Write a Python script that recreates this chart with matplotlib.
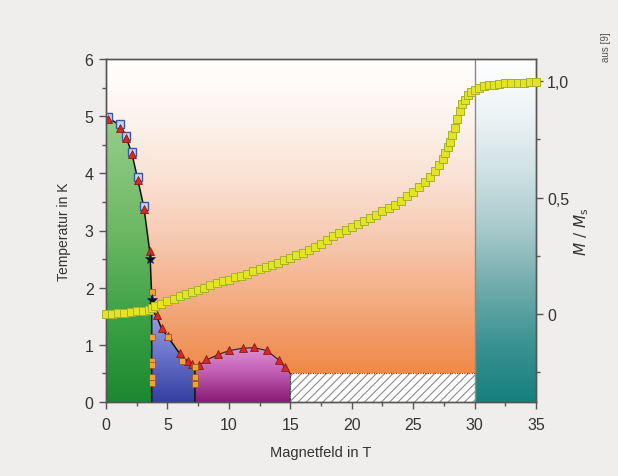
import numpy as np
import matplotlib
matplotlib.use("Agg")
import matplotlib.pyplot as plt
from matplotlib.patches import Polygon, Rectangle
from matplotlib.ticker import MultipleLocator, FixedLocator

plt.rcParams['font.family'] = ['Liberation Sans', 'DejaVu Sans']
plt.rcParams['hatch.color'] = '#8a8a8a'
plt.rcParams['hatch.linewidth'] = 0.8

# ---------------- data ----------------
# magnetisation curve M/Ms vs field
m_field = [0, 0.5, 1, 1.5, 2, 2.5, 3, 3.5, 3.75, 4.0, 4.5, 5, 5.5, 6, 6.5, 7, 7.5, 8, 8.5, 9,
           9.5, 10, 10.5, 11, 11.5, 12, 12.5, 13, 13.5, 14, 14.5, 15, 15.5, 16, 16.5, 17, 17.5,
           18, 18.5, 19, 19.5, 20, 20.5, 21, 21.5, 22, 22.5, 23, 23.5, 24, 24.5, 25, 25.5, 26,
           26.4, 26.8, 27.1, 27.4, 27.6, 27.8, 28.0, 28.2, 28.4, 28.6, 28.8, 29.0, 29.2, 29.45,
           29.7, 30.0, 30.4, 30.8, 31.2, 31.6, 32.0, 32.5, 33, 33.5, 34, 34.5, 35]
m_value = [0.0, 0.002, 0.004, 0.006, 0.009, 0.012, 0.015, 0.019, 0.028, 0.036, 0.045, 0.055,
           0.065, 0.076, 0.086, 0.096, 0.105, 0.114, 0.123, 0.132, 0.140, 0.148, 0.157, 0.165,
           0.174, 0.183, 0.192, 0.201, 0.210, 0.220, 0.230, 0.240, 0.252, 0.264, 0.276, 0.288,
           0.300, 0.318, 0.333, 0.347, 0.360, 0.373, 0.386, 0.399, 0.412, 0.426, 0.440, 0.455,
           0.470, 0.487, 0.505, 0.524, 0.546, 0.568, 0.590, 0.615, 0.640, 0.665, 0.690, 0.715,
           0.740, 0.770, 0.800, 0.835, 0.870, 0.900, 0.920, 0.940, 0.952, 0.962, 0.970, 0.977,
           0.981, 0.984, 0.987, 0.989, 0.991, 0.992, 0.993, 0.994, 0.995]

# phase boundary points (field, temperature)
sq_blue_B = [0.2, 1.14, 1.63, 2.09, 2.57, 3.09]
sq_blue_T = [4.98, 4.86, 4.66, 4.38, 3.93, 3.42]

tri_B = [0.2, 1.14, 1.63, 2.09, 2.57, 3.09, 3.58, 4.12, 4.53, 5.07, 6.02, 6.64, 6.97, 7.59,
         8.13, 9.14, 10.03, 11.12, 12.06, 13.07, 14.1, 14.6]
tri_T = [4.95, 4.80, 4.62, 4.33, 3.88, 3.38, 2.65, 1.52, 1.30, 1.15, 0.85, 0.72, 0.66, 0.65,
         0.75, 0.84, 0.91, 0.95, 0.96, 0.91, 0.74, 0.61]

star_B = [3.58, 3.72]
star_T = [2.51, 1.78]

sq_or_B = [3.72, 3.72, 3.72, 3.72, 3.72, 3.72, 5.02, 6.21, 7.24, 7.24, 7.24]
sq_or_T = [1.92, 1.13, 0.72, 0.64, 0.43, 0.34, 1.13, 0.72, 0.61, 0.43, 0.31]

# phase boundary lines
b1_B = [0.0, 0.2, 1.14, 1.63, 2.09, 2.57, 3.09, 3.58, 3.72, 3.72]
b1_T = [5.0, 4.97, 4.84, 4.64, 4.36, 3.91, 3.40, 2.60, 1.85, 0.0]
b2_B = [3.72, 4.12, 4.53, 5.07, 6.02, 6.64, 6.97, 7.24, 7.24]
b2_T = [1.62, 1.50, 1.28, 1.13, 0.84, 0.71, 0.65, 0.60, 0.0]
b3_B = [7.24, 7.59, 8.13, 9.14, 10.03, 11.12, 12.06, 13.07, 14.1, 14.6, 15.0, 15.0]
b3_T = [0.60, 0.64, 0.73, 0.83, 0.90, 0.94, 0.95, 0.90, 0.73, 0.60, 0.50, 0.0]

hatch_B = [15, 30]
hatch_T = [0, 0.5]
sat_B = 30

x_ticks = [0, 5, 10, 15, 20, 25, 30, 35]
y_ticks = [0, 1, 2, 3, 4, 5, 6]
m_ticks = [0, 0.5, 1.0]
m_labels = ['0', '0,5', '1,0']

# ---------------- figure ----------------
W, H = 618, 477
fig = plt.figure(figsize=(W / 100, H / 100), dpi=100, facecolor='#efeeec')
ax = fig.add_axes([106 / W, 1 - 403 / H, 430 / W, 343 / H])
ax.set_facecolor('white')

TXT = '#333333'
SP = '#555555'


def gradient(stops, n=300):
    ts = np.array([s[0] for s in stops], float)
    cs = np.array([s[1] for s in stops], float) / 255.0
    order = np.argsort(ts)
    ts, cs = ts[order], cs[order]
    yy = np.linspace(ts[0], ts[-1], n)
    arr = np.stack([np.interp(yy, ts, cs[:, k]) for k in range(3)], axis=1)
    return arr[:, None, :], ts[0], ts[-1]


def grad_region(verts, x0, x1, stops, z):
    arr, y0, y1 = gradient(stops)
    im = ax.imshow(arr, extent=[x0, x1, y0, y1], origin='lower', aspect='auto',
                   interpolation='bilinear', zorder=z)
    poly = Polygon(verts, closed=True, transform=ax.transData, facecolor='none',
                   edgecolor='none')
    ax.add_patch(poly)
    im.set_clip_path(poly)


orange = [(6, (255, 255, 255)), (5, (253, 244, 239)), (4, (250, 227, 214)),
          (3, (247, 205, 182)), (2, (244, 178, 140)), (1, (241, 150, 94)),
          (0.5, (240, 137, 72)), (0, (240, 130, 60))]
teal = [(6, (255, 255, 255)), (5, (236, 243, 245)), (4, (207, 224, 227)),
        (3, (166, 201, 203)), (2, (112, 171, 171)), (1, (58, 146, 146)), (0, (22, 128, 126))]
green = [(5, (150, 206, 140)), (3, (110, 184, 100)), (1.5, (60, 162, 70)), (0, (28, 136, 48))]
blue = [(1.65, (160, 168, 226)), (0.8, (104, 114, 202)), (0, (52, 62, 160))]
magenta = [(1.0, (226, 152, 216)), (0.5, (192, 92, 178)), (0, (136, 26, 116))]

grad_region([(0, 0), (sat_B, 0), (sat_B, 6), (0, 6)], 0, sat_B, orange, 0.5)
grad_region([(sat_B, 0), (35, 0), (35, 6), (sat_B, 6)], sat_B, 35, teal, 0.5)
grad_region([(0, 0)] + list(zip(b1_B, b1_T)), 0, 3.72, green, 1)
grad_region([(3.72, 0)] + list(zip(b2_B, b2_T)), 3.72, 7.24, blue, 1)
grad_region([(7.24, 0)] + list(zip(b3_B, b3_T)), 7.24, 15, magenta, 1)

# hatched region
ax.add_patch(Rectangle((hatch_B[0], hatch_T[0]), hatch_B[1] - hatch_B[0], hatch_T[1] - hatch_T[0],
                       facecolor='white', edgecolor='#8a8a8a', hatch='////', linewidth=0,
                       zorder=1))
ax.plot([hatch_B[0], hatch_B[0], hatch_B[1]], [hatch_T[0], hatch_T[1], hatch_T[1]],
        color='#444444', lw=0.8, ls=(0, (1, 1.2)), zorder=2)

# vertical line at 30 T
ax.plot([sat_B, sat_B], [0, 6], color='#8a8a8a', lw=1.0, zorder=2)

# boundary lines
ax.plot(b1_B, b1_T, color='#111111', lw=1.1, zorder=3)
ax.plot(b2_B, b2_T, color='#111111', lw=1.1, zorder=3)
ax.plot(b3_B[:-1], b3_T[:-1], color='#222222', lw=0.8, zorder=3)
ax.plot(b3_B[-2:], b3_T[-2:], color='#333333', lw=0.8, ls=(0, (1, 1.2)), zorder=3)

# markers
ax.plot(sq_blue_B, sq_blue_T, ls='none', marker='s', ms=5.3, mfc='#c9d6f0', mec='#3a55a8',
        mew=1.0, zorder=4)
ax.plot(tri_B, tri_T, ls='none', marker='^', ms=5.5, mfc='#d42a22', mec='#8a1a14', mew=0.6,
        zorder=5)
ax.plot(sq_or_B, sq_or_T, ls='none', marker='s', ms=4.6, mfc='#f2a23a', mec='#9a5a20', mew=0.6,
        zorder=5)
ax.plot(star_B, star_T, ls='none', marker='*', ms=8, mfc='#111111', mec='#1a2a60', mew=0.5,
        zorder=6)

ax.set_xlim(0, 35)
ax.set_ylim(0, 6)

# twin axis for magnetisation
ax2 = ax.twinx()
ax2.set_ylim(-0.377, 1.094)
ax2.plot(m_field, m_value, ls='none', marker='s', ms=5.2, mfc='#e4e424', mec='#a3b22c',
         mew=0.7, zorder=7, clip_on=False)

# ticks & spines
for a in (ax, ax2):
    for s in a.spines.values():
        s.set_color(SP)
        s.set_linewidth(1.0)
ax.set_xticks(x_ticks)
ax.set_yticks(y_ticks)
ax.xaxis.set_minor_locator(MultipleLocator(2.5))
ax.yaxis.set_minor_locator(MultipleLocator(0.5))
ax.tick_params(which='major', direction='out', length=5, width=1, color=SP,
               labelsize=11.5, labelcolor=TXT, pad=4)
ax.tick_params(axis='x', which='major', pad=6)
ax.tick_params(which='minor', direction='out', length=3, width=1, color=SP)
ax2.set_yticks(m_ticks)
ax2.set_yticklabels(m_labels)
ax2.yaxis.set_minor_locator(FixedLocator([-0.25, 0.25, 0.75]))
ax2.tick_params(which='major', direction='out', length=5, width=1, color=SP,
                labelsize=11.5, labelcolor=TXT, pad=3)
ax2.tick_params(which='minor', direction='out', length=3, width=1, color=SP)

ax.set_xlabel('Magnetfeld in T', fontsize=10.5, color=TXT, labelpad=9)
ax.set_ylabel('Temperatur in K', fontsize=10, color=TXT, labelpad=10)
ax2.set_ylabel(r'$M\ /\ M_\mathrm{s}$', fontsize=11, color=TXT, labelpad=2)

fig.text(606 / W, 1 - 62 / H, 'aus [9]', rotation=90, fontsize=7, color='#555555',
         ha='center', va='bottom')

fig.savefig('out.png', dpi=100, facecolor=fig.get_facecolor())
